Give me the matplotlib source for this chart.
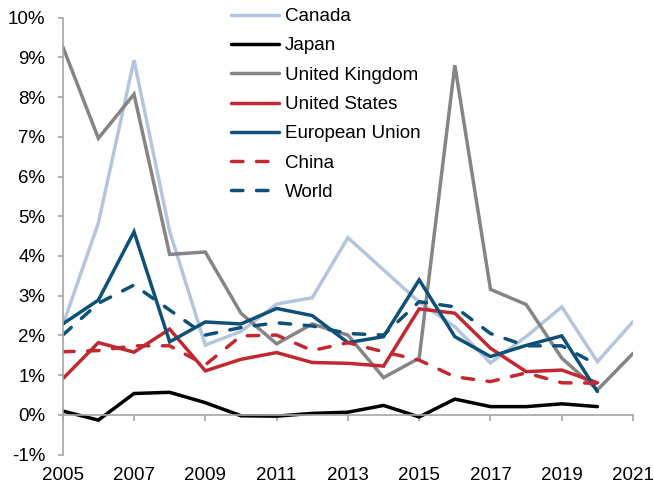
import numpy as np
import matplotlib
matplotlib.use('Agg')
import matplotlib.pyplot as plt
from matplotlib.ticker import FuncFormatter, MultipleLocator

# Annual values in percent, 2005-2021 (nan = no data)
years = np.arange(2005, 2022)
nan = np.nan

canada = [2.25, 4.83, 8.93, 4.62, 1.76, 2.10, 2.79, 2.95, 4.46, 3.65, 2.84, 2.22, 1.31, 1.97, 2.72, 1.34, 2.35]
japan = [0.10, -0.13, 0.54, 0.57, 0.31, -0.02, -0.03, 0.04, 0.07, 0.24, -0.05, 0.40, 0.21, 0.21, 0.28, 0.21, nan]
uk = [9.27, 6.96, 8.07, 4.04, 4.10, 2.56, 1.79, 2.29, 2.01, 0.94, 1.43, 8.80, 3.16, 2.78, 1.43, 0.63, 1.55]
us = [0.91, 1.82, 1.58, 2.16, 1.11, 1.40, 1.57, 1.32, 1.30, 1.23, 2.67, 2.56, 1.68, 1.09, 1.13, 0.81, nan]
eu = [2.29, 2.89, 4.61, 1.84, 2.34, 2.29, 2.68, 2.50, 1.82, 1.97, 3.40, 1.97, 1.47, 1.75, 1.99, 0.59, nan]
china = [1.59, 1.62, 1.74, 1.74, 1.26, 1.99, 2.01, 1.62, 1.82, 1.59, 1.38, 0.96, 0.84, 1.06, 0.81, 0.80, nan]
world = [2.01, 2.81, 3.27, 2.64, 2.01, 2.20, 2.32, 2.24, 2.05, 2.01, 2.85, 2.72, 2.05, 1.74, 1.74, 1.26, nan]

labels = ['Canada', 'Japan', 'United Kingdom', 'United States', 'European Union', 'China', 'World']
series = [canada, japan, uk, us, eu, china, world]
colors = ['#B3C6DD', '#000000', '#858585', '#C12830', '#0E5077', '#C12830', '#0E5077']
styles = ['-', '-', '-', '-', '-', '--', '--']
xticks = list(range(2005, 2022, 2))

plt.rcParams['font.family'] = ['Liberation Sans', 'DejaVu Sans']
plt.rcParams['font.size'] = 13.5

fig = plt.figure(figsize=(6.54, 4.84), dpi=100)
ax = fig.add_axes([0.0959, 0.0605, 0.8721, 0.9033])

lw = 2.5
for vals, lab, col, ls in zip(series, labels, colors, styles):
    line, = ax.plot(years, vals, color=col, linewidth=lw, linestyle=ls, label=lab,
                    solid_joinstyle='miter', solid_capstyle='round', dash_capstyle='round')
    if ls == '--':
        line.set_dashes((3.3, 3.9))

ax.set_xlim(2005, 2021)
ax.set_ylim(-1, 10)
ax.set_xticks(xticks)
ax.yaxis.set_major_locator(MultipleLocator(1))
ax.yaxis.set_major_formatter(FuncFormatter(lambda v, p: f'{v:.0f}%'))

# x axis sits at 0%, labels stay at the bottom
ax.spines['bottom'].set_position(('data', 0))
for s in ['top', 'right']:
    ax.spines[s].set_visible(False)
for s in ['left', 'bottom']:
    ax.spines[s].set_color('#A6A6A6')
    ax.spines[s].set_linewidth(1.2)

ax.tick_params(axis='x', direction='out', length=4.5, width=1.2, color='#A6A6A6', pad=33)
ax.tick_params(axis='y', direction='out', length=3.5, width=1.2, color='#A6A6A6', pad=9)

leg = ax.legend(loc='upper left', bbox_to_anchor=(231 / 654, 1 - 8 / 484), bbox_transform=fig.transFigure,
                frameon=False, handlelength=2.56, handletextpad=0.3, labelspacing=0.65,
                borderpad=0.0, borderaxespad=0.0, fontsize=13.5)

fig.savefig('out.png', dpi=100)
